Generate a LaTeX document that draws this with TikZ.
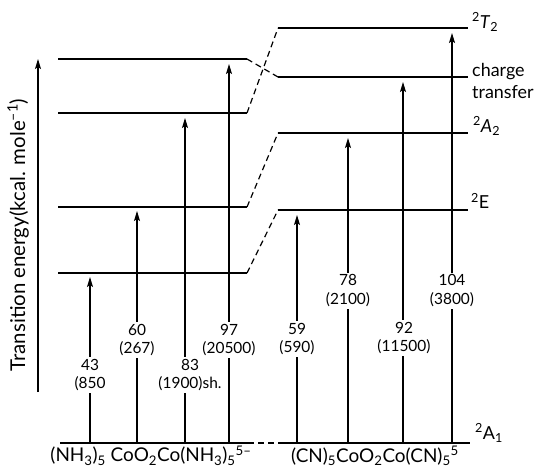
\documentclass[tikz,border=0pt]{standalone}
\usepackage{fontspec}
\setmainfont{Lato}
\usetikzlibrary{arrows.meta}
\tikzset{
	level/.style={line width=1.3bp},
	trans/.style={line width=1.2bp, -{Stealth[length=10bp,width=6bp,inset=2bp]}},
	corr/.style={line width=1.2bp, dash pattern=on 6bp off 4bp},
	val/.style={fill=white, inner sep=1.5bp, align=center, font=\fontsize{15.5}{19}\selectfont},
	term/.style={anchor=west, inner sep=0pt, font=\fontsize{18}{20}\selectfont},
}
\begin{document}
\begin{tikzpicture}[x=1bp, y=-1bp]
	\useasboundingbox (0,0) rectangle (537,468);

	% energy axis
	\coordinate (ax0) at (38,392);
	\coordinate (ax1) at (38,59);
	\draw[trans] (ax0) -- (ax1);
	\node[rotate=90, font=\fontsize{20.5}{22}\selectfont] (axis) at (18,235) {Transition energy(kcal. mole\textsuperscript{–1})};

	% levels, (NH3) side
	\coordinate (a1) at (58,273); \coordinate (a1e) at (247,273);
	\coordinate (a2) at (58,207); \coordinate (a2e) at (247,207);
	\coordinate (a3) at (58,113); \coordinate (a3e) at (247,113);
	\coordinate (a4) at (58,59);  \coordinate (a4e) at (247,59);
	\draw[level] (a1) -- (a1e);
	\draw[level] (a2) -- (a2e);
	\draw[level] (a3) -- (a3e);
	\draw[level] (a4) -- (a4e);

	% levels, (CN) side
	\coordinate (bE) at (278,210); \coordinate (bEe) at (468,210);
	\coordinate (bA) at (278,133); \coordinate (bAe) at (468,133);
	\coordinate (bC) at (278,77);  \coordinate (bCe) at (468,77);
	\coordinate (bT) at (278,28);  \coordinate (bTe) at (468,28);
	\draw[level] (bE) -- (bEe);
	\draw[level] (bA) -- (bAe);
	\draw[level] (bC) -- (bCe);
	\draw[level] (bT) -- (bTe);

	% correlation lines
	\draw[corr] (a1e) -- (bE);
	\draw[corr] (a2e) -- (bA);
	\draw[corr] (a3e) -- (bT);
	\draw[corr] (a4e) -- (bC);

	% ground state
	\coordinate (g0) at (60,443);
	\coordinate (g1) at (248,443);
	\coordinate (g2) at (283,443);
	\coordinate (g3) at (470,443);
	\draw[level] (g0) -- (g1);
	\draw[corr] (g1) -- (g2);
	\draw[level] (g2) -- (g3);

	% transitions
	\draw[trans] (90,443) coordinate (s43) -- (90,277) coordinate (t43);
	\draw[trans] (137,443) coordinate (s60) -- (137,211) coordinate (t60);
	\draw[trans] (185,443) coordinate (s83) -- (185,118) coordinate (t83);
	\draw[trans] (229,443) coordinate (s97) -- (229,64) coordinate (t97);
	\draw[trans] (297,443) coordinate (s59) -- (297,215) coordinate (t59);
	\draw[trans] (348,443) coordinate (s78) -- (348,138) coordinate (t78);
	\draw[trans] (403,443) coordinate (s92) -- (403,82) coordinate (t92);
	\draw[trans] (452,443) coordinate (s104) -- (452,33) coordinate (t104);

	\node[val] (v43) at (90,375) {43\\(850};
	\node[val] (v60) at (137,340) {60\\(267)};
	\node[val] (v83) at (190,375) {83\\(1900)sh.};
	\node[val] (v97) at (229,340) {97\\(20500)};
	\node[val] (v59) at (297,339) {59\\(590)};
	\node[val] (v78) at (348,291) {78\\(2100)};
	\node[val] (v92) at (404,338) {92\\(11500)};
	\node[val] (v104) at (452,291) {104\\(3800)};

	% term symbols
	\node[term] (T2) at (472,22) {\textsuperscript{2}\textit{T}\textsubscript{2}};
	\node[term, align=left, font=\fontsize{18}{22}\selectfont] (ct) at (472,81) {charge\\transfer};
	\node[term] (A2) at (473,126) {\textsuperscript{2}\textit{A}\textsubscript{2}};
	\node[term] (E) at (471,201) {\textsuperscript{2}E};
	\node[term] (A1) at (475,433) {\textsuperscript{2}A\textsubscript{1}};

	% compounds
	\node[font=\fontsize{19}{20}\selectfont] (nh3) at (151,456) {(NH\textsubscript{3})\textsubscript{5} CoO\textsubscript{2}Co(NH\textsubscript{3})\textsubscript{5}\textsuperscript{5–}};
	\node[font=\fontsize{19}{20}\selectfont] (cn) at (375,456) {(CN)\textsubscript{5}CoO\textsubscript{2}Co(CN)\textsubscript{5}\textsuperscript{5}};
\end{tikzpicture}
\end{document}
